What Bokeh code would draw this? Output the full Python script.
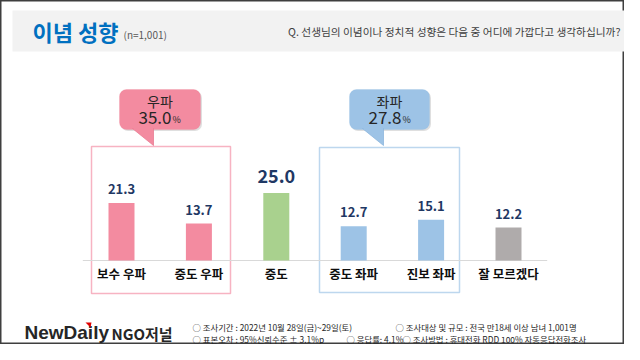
from bokeh.plotting import figure
from bokeh.models import Range1d, ColumnDataSource, BoxAnnotation
from bokeh.core.properties import value
from bokeh.embed import file_html
from bokeh.resources import INLINE

# ---------------- data ----------------
categories = ["보수 우파", "중도 우파", "중도", "중도 좌파", "진보 좌파", "잘 모르겠다"]
values = [21.3, 13.7, 25.0, 12.7, 15.1, 12.2]
groups = ["우파", "우파", "중도", "좌파", "좌파", "기타"]
title_text = "이념 성향"
sample_text = "(n=1,001)"
question_text = "Q. 선생님의 이념이나 정치적 성향은 다음 중 어디에 가깝다고 생각하십니까?"
footer_line1 = ["○ 조사기간 : 2022년 10월 28일(금)~29일(토)", "○ 조사대상 및 규모 : 전국 만18세 이상 남녀  1,001명"]
footer_line2 = ["○ 표본오차 : 95%신뢰수준 ± 3.1%p", "○ 응답률: 4.1%", "○ 조사방법 : 휴대전화 RDD 100% 자동응답전화조사"]

# ---------------- styles ----------------
KR = "Noto Sans CJK KR"
group_color = {"우파": "#f38ba0", "중도": "#a9d18e", "좌파": "#9dc3e6", "기타": "#afabab"}
HIGHLIGHT = "중도"
NAVY = "#1f3864"

W, H = 624, 344
p = figure(width=W, height=H, x_range=Range1d(0, W), y_range=Range1d(H, 0),
           x_axis_location=None, y_axis_location=None, toolbar_location=None,
           output_backend="svg", min_border=0, outline_line_color="#3f3f3f", outline_line_width=2,
           background_fill_color="white", border_fill_color="white")
p.grid.visible = False

# category scale: index 0 centred at x=121, spacing 77.4 px
step, c0 = 77.4, 121.0
p.extra_x_ranges = {"cat": Range1d((0 - c0) / step, (W - c0) / step)}
# value scale: 0 at y=260, 2.70 px per point
ppu, base = 2.70, 260.0
p.extra_y_ranges = {"val": Range1d(-(H - base) / ppu, (base - 0) / ppu)}

# ---- header ----
p.quad(left=12, right=625, top=10, bottom=51, fill_color="#f2f2f2", line_color=None)
p.text(x=[32], y=[30], text=[title_text], text_font=value(KR), text_font_style="bold",
       text_font_size="22px", text_color="#0070c0", text_baseline="middle", text_align="left")
p.text(x=[123], y=[34], text=[sample_text], text_font=value(KR), text_font_size="10px",
       text_color="#595959", text_baseline="middle", text_align="left")
p.text(x=[620], y=[31], text=[question_text], text_font=value(KR), text_font_size="10.7px",
       text_color="#404040", text_baseline="middle", text_align="right")

# ---- group frames ----
p.quad(left=91, right=230, top=146, bottom=293, fill_color=None, line_color="#f7b3c2", line_width=1.5)
p.quad(left=319, right=459, top=147, bottom=292, fill_color=None, line_color="#bdd7ee", line_width=1.5)

# ---- callouts ----
def callout(cx_left, cx_right, fill, edge, name, total, num_right):
    p.add_layout(BoxAnnotation(left=cx_left + 1.5, right=cx_right + 1.5, top=90.5, bottom=130.5,
                               fill_color="#7f7f7f", fill_alpha=0.25, line_color=None,
                               border_radius=7, level="underlay"))
    p.add_layout(BoxAnnotation(left=cx_left, right=cx_right, top=89, bottom=129, fill_color=fill,
                               fill_alpha=1, line_color=edge, line_width=0.8, border_radius=7,
                               level="underlay"))
    p.patch(x=[cx_left + 13, cx_left + 34, cx_left + 34], y=[128, 128, 145], fill_color=fill,
            line_color=edge, line_width=0.8)
    p.quad(left=cx_left + 14, right=cx_left + 33.5, top=126, bottom=129.5, fill_color=fill, line_color=None)
    cx = (cx_left + cx_right) / 2
    p.text(x=[cx], y=[100], text=[name], text_font=value(KR), text_font_size="14px",
           text_color="#262626", text_baseline="middle", text_align="center")
    p.text(x=[num_right], y=[117], text=[f"{total:.1f}"], text_font=value(KR), text_font_size="17px",
           text_color="#262626", text_baseline="middle", text_align="right")
    p.text(x=[num_right + 1], y=[119], text=["%"], text_font=value(KR), text_font_size="9px",
           text_color="#262626", text_baseline="middle", text_align="left")

right_total = sum(v for v, g in zip(values, groups) if g == "우파")
left_total = sum(v for v, g in zip(values, groups) if g == "좌파")
callout(119, 200, "#f38ba0", "#e97c93", "우파", right_total, 171)
callout(349, 429, "#9dc3e6", "#8db6dd", "좌파", left_total, 401)

# ---- bars ----
idx = list(range(len(categories)))
src = ColumnDataSource(dict(
    x=idx, top=values, cat=categories,
    color=[group_color[g] for g in groups],
    label=[f"{v:.1f}" for v in values],
    size=["18px" if c == HIGHLIGHT else "13px" for c in categories],
    off=[-17 if c == HIGHLIGHT else -14 for c in categories],
))
p.segment(x0=[-0.5], x1=[len(categories) - 0.5], y0=[0], y1=[0], line_color="#d9d9d9",
          line_width=1, x_range_name="cat", y_range_name="val")
p.vbar(x="x", top="top", bottom=0, width=0.336, fill_color="color", line_color=None,
       source=src, x_range_name="cat", y_range_name="val")
p.text(x="x", y="top", text="label", y_offset="off", text_font=value(KR), text_font_style="bold",
       text_font_size="size", text_color=NAVY, text_baseline="middle", text_align="center",
       source=src, x_range_name="cat", y_range_name="val")
p.text(x="x", y=0, text="cat", y_offset=13, text_font=value(KR), text_font_style="bold",
       text_font_size="12.5px", text_color="#0d0d0d", text_baseline="middle", text_align="center",
       source=src, x_range_name="cat", y_range_name="val")

# ---- footer ----
p.text(x=[24], y=[332], text=["NewDaily"], text_font=value("Liberation Sans"), text_font_style="bold",
       text_font_size="19px", text_color="#262626", text_baseline="middle", text_align="left")
p.patch(x=[85, 91, 90], y=[322, 322, 327], fill_color="#e00000", line_color=None)
p.text(x=[111], y=[333], text=["NGO저널"], text_font=value(KR), text_font_style="bold",
       text_font_size="15px", text_color="#262626", text_baseline="middle", text_align="left")
p.text(x=[192, 395], y=[326, 326], text=footer_line1, text_font=value(KR), text_font_size="8.4px",
       text_color="#262626", text_baseline="middle", text_align="left")
p.text(x=[192, 346, 402], y=[338, 338, 338], text=footer_line2, text_font=value(KR), text_font_size="8.4px",
       text_color="#262626", text_baseline="middle", text_align="left")

open("out.html", "w").write(file_html(p, INLINE))
